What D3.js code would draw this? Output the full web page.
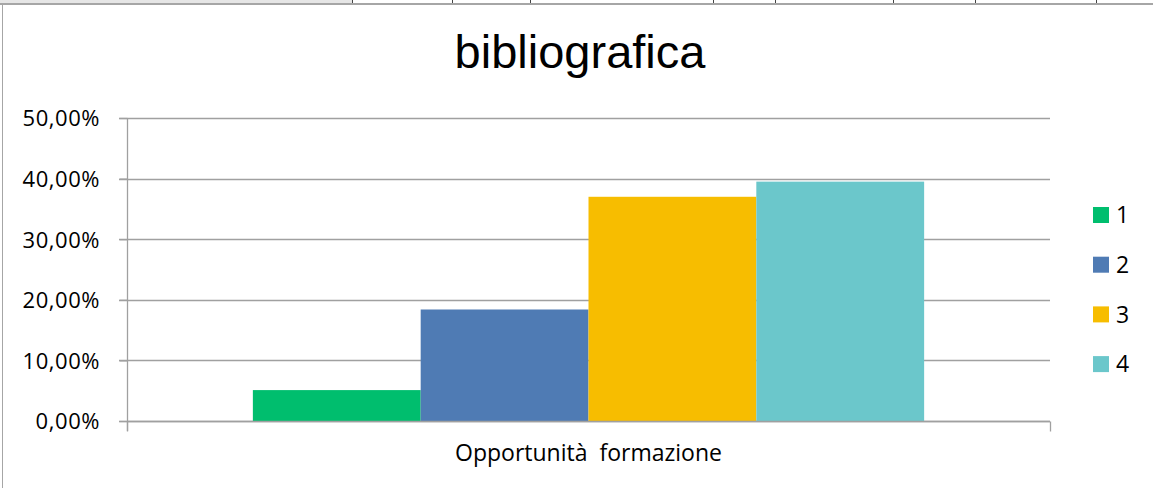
<!DOCTYPE html>
<html>
<head>
<meta charset="utf-8">
<script src="https://cdn.jsdelivr.net/npm/d3@7"></script>
<style>
  html, body { margin: 0; padding: 0; background: #fff; }
  svg { display: block; }
  text { font-family: "Open Sans", "Liberation Sans", sans-serif; fill: #000; }
</style>
</head>
<body>
<svg id="chart" width="1153" height="488"></svg>
<script>
// chart values
const title = "bibliografica";
const category = "Opportunità  formazione";
const seriesNames = ["1", "2", "3", "4"];
const seriesValues = [0.051, 0.184, 0.370, 0.395];
const seriesColors = ["#00be6e", "#4f7bb4", "#f7bd00", "#6bc7cb"];
const yTicks = [0, 0.1, 0.2, 0.3, 0.4, 0.5];
// spreadsheet column separators peeking above the chart
const sheetCols = [352, 452, 530, 713, 775, 893, 975, 1096];

const width = 1153;
const height = 488;
const plot = { left: 127, right: 1050, top: 118, bottom: 421 };

const svg = d3.select("#chart");

// spreadsheet strip behind the chart object
svg.append("rect").attr("x", 0).attr("y", 0).attr("width", width).attr("height", 3).attr("fill", "#ffffff");
svg.append("rect").attr("x", 0).attr("y", 0).attr("width", 352).attr("height", 3).attr("fill", "#e6e6e6");
svg.selectAll("line.col").data(sheetCols).join("line")
  .attr("class", "col")
  .attr("x1", d => d + 0.5).attr("x2", d => d + 0.5)
  .attr("y1", 0).attr("y2", 3)
  .attr("stroke", "#444").attr("stroke-width", 1);
svg.append("rect").attr("x", 0).attr("y", 3).attr("width", width).attr("height", 2).attr("fill", "#a6a6a6");
svg.append("line")
  .attr("x1", 2.5).attr("x2", 2.5).attr("y1", 4).attr("y2", height)
  .attr("stroke", "#a6a6a6").attr("stroke-width", 1);

// title
svg.append("text")
  .attr("x", 580).attr("y", 68)
  .attr("text-anchor", "middle")
  .style("font-family", "'Liberation Sans', Arial, sans-serif")
  .style("font-size", "47px")
  .text(title);

const y = d3.scaleLinear().domain([0, 0.5]).range([plot.bottom, plot.top]);
const x0 = d3.scaleBand().domain([category]).range([plot.left, plot.right]).paddingInner(0).paddingOuter(0);
// Excel gap width 150%: group takes bandwidth / (1 + 1.5/4)
const groupWidth = x0.bandwidth() / (1 + 1.5 / seriesNames.length);
const x1 = d3.scaleBand().domain(seriesNames)
  .range([x0(category) + (x0.bandwidth() - groupWidth) / 2, x0(category) + (x0.bandwidth() + groupWidth) / 2]);

const fmt = v => d3.format(".2f")(v * 100).replace(".", ",") + "%";

// gridlines
svg.append("g").selectAll("line").data(yTicks).join("line")
  .attr("x1", plot.left - 8).attr("x2", plot.right)
  .attr("y1", d => Math.round(y(d)) + 0.5).attr("y2", d => Math.round(y(d)) + 0.5)
  .attr("stroke", "#a0a0a0").attr("stroke-width", 1.3);

// y axis
const yAxis = svg.append("g")
  .attr("transform", `translate(${plot.left + 0.5},0)`)
  .call(d3.axisLeft(y).tickValues(yTicks).tickFormat(fmt).tickSize(8).tickPadding(20));
yAxis.select(".domain").attr("stroke", "#a0a0a0").attr("stroke-width", 1.3)
  .attr("d", `M0,${plot.top}V${plot.bottom + 10}`);
yAxis.selectAll(".tick line").attr("stroke", "#a0a0a0").attr("stroke-width", 1.3);
yAxis.selectAll(".tick text")
  .style("font-size", "22px")
  .style("fill", "#000")
  .attr("x", -28)
  .attr("dy", "0.36em")
  .attr("textLength", d => (fmt(d).length === 6 ? 77 : 64))
  .attr("lengthAdjust", "spacing");

// bars
svg.append("g").selectAll("rect").data(seriesValues).join("rect")
  .attr("x", (d, i) => x1(seriesNames[i]))
  .attr("width", x1.bandwidth())
  .attr("y", d => y(d))
  .attr("height", d => y(0) - y(d))
  .attr("fill", (d, i) => seriesColors[i]);

// x axis
const xAxis = svg.append("g")
  .attr("transform", `translate(0,${Math.round(y(0)) + 0.5})`);
xAxis.append("line")
  .attr("x1", plot.left).attr("x2", plot.right)
  .attr("stroke", "#a0a0a0").attr("stroke-width", 1.3);
xAxis.selectAll("line.tk").data([plot.left, plot.right]).join("line")
  .attr("class", "tk")
  .attr("x1", d => d + 0.5).attr("x2", d => d + 0.5)
  .attr("y1", 0).attr("y2", 10)
  .attr("stroke", "#a0a0a0").attr("stroke-width", 1.3);
xAxis.append("text")
  .attr("x", x0(category) + x0.bandwidth() / 2)
  .attr("y", 39)
  .attr("text-anchor", "middle")
  .style("font-size", "23px")
  .style("white-space", "pre")
  .attr("xml:space", "preserve")
  .text(category);

// legend
const legend = svg.append("g").attr("transform", "translate(1093,207)");
const item = legend.selectAll("g").data(seriesNames).join("g")
  .attr("transform", (d, i) => `translate(0,${i * 49.7})`);
item.append("rect").attr("width", 16).attr("height", 16)
  .attr("fill", (d, i) => seriesColors[i]);
item.append("text").attr("x", 23).attr("y", 8).attr("dy", "0.36em")
  .style("font-size", "23px")
  .text(d => d);
</script>
</body>
</html>
